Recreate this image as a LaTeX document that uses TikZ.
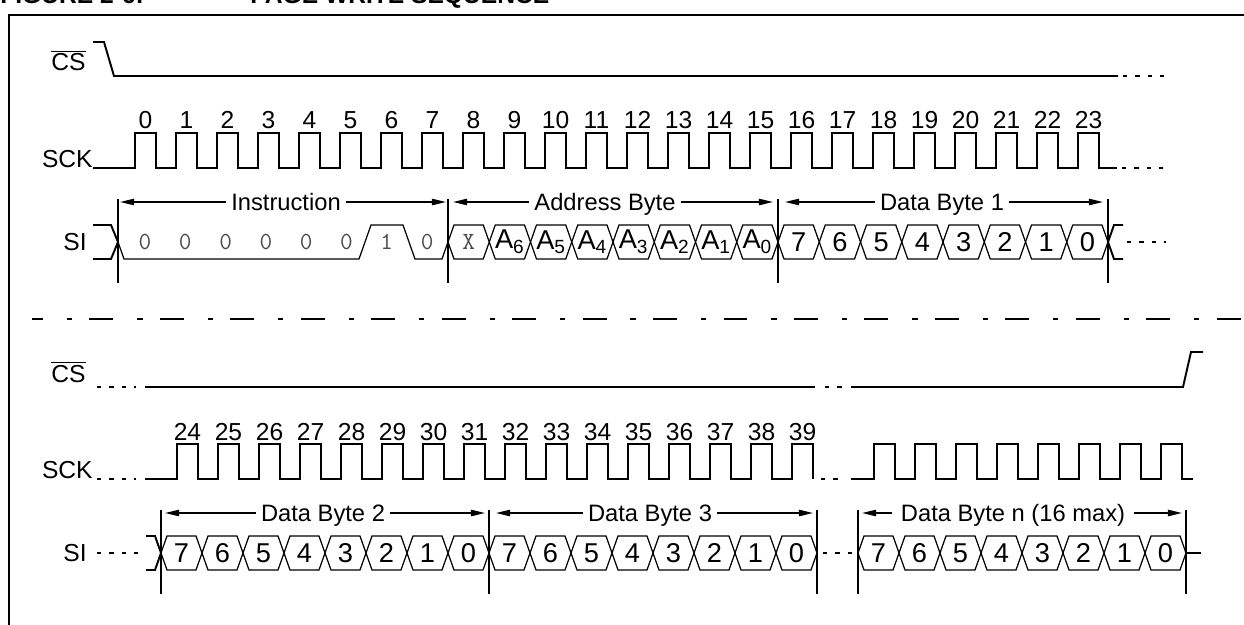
\documentclass[tikz,border=0pt]{standalone}
\usepackage{fontspec}
\setmainfont{Liberation Sans}
\usetikzlibrary{arrows.meta}
\usetikzlibrary{calc}

\tikzset{
  sig/.style={line width=1.1pt},
  hexcell/.style={line width=0.7pt},
  dotsig/.style={line width=1.1pt, dash pattern=on 2.5pt off 4.5pt},
  tickline/.style={line width=1.1pt},
  spanarrow/.style={line width=0.8pt, {Triangle[length=8pt,width=3.6pt]}-{Triangle[length=8pt,width=3.6pt]}},
  lbl/.style={font=\fontsize{14}{16}\selectfont, inner sep=0pt},
  spanlbl/.style={font=\fontsize{13.5}{15}\selectfont, inner sep=0pt, fill=white, inner xsep=3pt, inner ysep=1pt},
  celltxt/.style={font=\fontsize{15.5}{17}\selectfont, inner sep=0pt},
  monobit/.style={font=\ttfamily\fontsize{14}{16}\selectfont, text=black!70, inner sep=0pt},
}

\begin{document}
\begin{tikzpicture}[x=0.02cm, y=-0.02cm]
\useasboundingbox (0,0) rectangle (1244,625);

% caption, cut by the page edge
\node[anchor=base west, inner sep=0pt, font=\bfseries\fontsize{14}{16}\selectfont] (fig) at (0,4) {FIGURE 2-6:};
\node[anchor=base west, inner sep=0pt, font=\bfseries\fontsize{14}{16}\selectfont] (title) at (250,4) {PAGE WRITE SEQUENCE};
\draw[sig] (9,640) -- (9,15) -- (1260,15);

% ---- first part ----
\node[lbl, anchor=base east] (cs1) at (86,71) {$\overline{\mbox{CS}}$};
\draw[sig] (93,42) -- (104,42) -- (114,76) -- (1118,76);
\draw[dotsig] (1123,76) -- (1166,76);

\node[lbl, anchor=base east] (sck1) at (93,167) {SCK};
\draw[sig] (93,168) foreach \k in {0,...,23} { -- ({135+41*\k},168) -- ({135+41*\k},133) -- ({156+41*\k},133) -- ({156+41*\k},168) } -- (1117,168);
\draw[dotsig] (1122,168) -- (1166,168);
\foreach \k in {0,...,23}
  \node[lbl, anchor=base] (n\k) at ({145.5+41*\k},129) {\k};

\node[lbl, anchor=base east] (si1) at (87,250) {SI};
\draw[sig] (93,225) -- (111,225) -- (118,242);
\draw[sig] (93,259) -- (111,259) -- (118,242);
\draw[hexcell] (118,242) -- (124,259) -- (359,259) -- (371,225) -- (403,225) -- (415,259) -- (442,259) -- (448,242);
\foreach \b [count=\i from 0] in {0,0,0,0,0,0,1,0}
  \node[monobit] (ib\i) at ({145+40.3*\i},242) {\b};

% address byte
\foreach \t [count=\i from 0] in {{\ttfamily\fontsize{14}{16}\selectfont\color{black!70}X},A\textsubscript{6},A\textsubscript{5},A\textsubscript{4},A\textsubscript{3},A\textsubscript{2},A\textsubscript{1},A\textsubscript{0}} {
  \draw[hexcell] ({448+41.25*\i},242) -- ++(6,-17) -- ++(29.25,0) -- ++(6,17) -- ++(-6,17) -- ++(-29.25,0) -- cycle;
  \node[celltxt] (ad\i) at ({468.6+41.25*\i},242) {\t};
}
% data byte 1
\foreach \t [count=\i from 0] in {7,...,0} {
  \draw[hexcell] ({778+41.25*\i},242) -- ++(6,-17) -- ++(29.25,0) -- ++(6,17) -- ++(-6,17) -- ++(-29.25,0) -- cycle;
  \node[celltxt] (da\i) at ({798.6+41.25*\i},242) {\t};
}
\draw[sig] (1108,242) -- (1114,225) -- (1123,225);
\draw[sig] (1108,242) -- (1114,259) -- (1123,259);
\draw[dotsig] (1127,242) -- (1166,242);

\coordinate (ta) at (118,202);
\coordinate (tb) at (448,202);
\coordinate (tc) at (778,202);
\coordinate (td) at (1108,202);
\foreach \t in {ta,tb,tc,td}
  \draw[tickline] ($(\t)+(0,-3)$) -- ($(\t)+(0,81)$);
\draw[spanarrow] ($(ta)+(2,0)$) -- ($(tb)+(-2,0)$);
\draw[spanarrow] ($(tb)+(5,0)$) -- ($(tc)+(-5,0)$);
\draw[spanarrow] ($(tc)+(7,0)$) -- ($(td)+(-5,0)$);
\node[spanlbl, anchor=base] (instr) at (286,210) {Instruction};
\node[spanlbl, anchor=base] (addr) at (605,210) {Address Byte};
\node[spanlbl, anchor=base] (db1) at (942,210) {Data Byte 1};

% separator
\draw[line width=1.1pt, dash pattern=on 13.6pt off 13.6pt on 3pt off 9.9pt, dash phase=7.4pt] (32,319) -- (1244,319);

% ---- second part ----
\node[lbl, anchor=base east] (cs2) at (86,382) {$\overline{\mbox{CS}}$};
\draw[dotsig] (97,387) -- (136,387);
\draw[sig] (145,387) -- (815,387);
\draw[dotsig] (825,387) -- (845,387);
\draw[sig] (851,387) -- (1183,387) -- (1191,352) -- (1203,352);

\node[lbl, anchor=base east] (sck2) at (93,478) {SCK};
\draw[dotsig] (97,479) -- (136,479);
\draw[sig] (145,479) foreach \k in {0,...,15} { -- ({177+41*\k},479) -- ({177+41*\k},444) -- ({198+41*\k},444) -- ({198+41*\k},479) };
\draw[dotsig] (821,479) -- (845,479);
\draw[sig] (851,479) foreach \k in {0,...,7} { -- ({874+41*\k},479) -- ({874+41*\k},444) -- ({895+41*\k},444) -- ({895+41*\k},479) } -- (1193,479);
\foreach \k in {24,...,39}
  \node[lbl, anchor=base] (n\k) at ({187.5+41*(\k-24)},440) {\k};

\node[lbl, anchor=base east] (si2) at (87,561) {SI};
\draw[dotsig] (97,553) -- (142,553);
\draw[sig] (146,536) -- (155,536) -- (161,553);
\draw[sig] (146,570) -- (155,570) -- (161,553);
\foreach \x/\nm in {161/db, 489/dc, 858/dn} {
  \foreach \t [count=\i from 0] in {7,...,0} {
    \draw[hexcell] ({\x+41*\i},553) -- ++(6,-17) -- ++(29,0) -- ++(6,17) -- ++(-6,17) -- ++(-29,0) -- cycle;
    \node[celltxt] (\nm\i) at ({\x+20.5+41*\i},553) {\t};
  }
}
\draw[dotsig] (823,553) -- (852,553);
\draw[sig] (1186,553) -- (1201,553);

\coordinate (te) at (161,513);
\coordinate (tf) at (489,513);
\coordinate (tg) at (817,513);
\coordinate (th) at (858,513);
\coordinate (ti) at (1186,513);
\foreach \t in {te,tf,tg,th,ti}
  \draw[tickline] ($(\t)+(0,-3)$) -- ($(\t)+(0,81)$);
\draw[spanarrow] ($(te)+(4,0)$) -- ($(tf)+(-4,0)$);
\draw[spanarrow] ($(tf)+(7,0)$) -- ($(tg)+(-4,0)$);
\draw[spanarrow] ($(th)+(4,0)$) -- ($(ti)+(-4,0)$);
\node[spanlbl, anchor=base] (db2) at (323,521) {Data Byte 2};
\node[spanlbl, anchor=base] (db3) at (650,521) {Data Byte 3};
\node[spanlbl, anchor=base, inner xsep=5pt] (dbn) at (1013,521) {Data Byte n (16 max)};
\end{tikzpicture}
\end{document}
